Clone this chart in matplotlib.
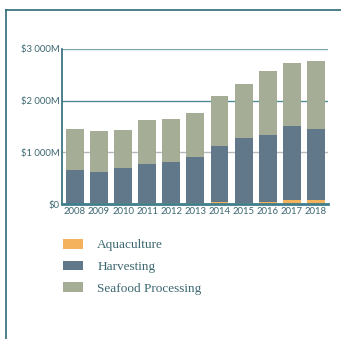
import numpy as np
import matplotlib.pyplot as plt
from matplotlib.lines import Line2D
from matplotlib.patches import Patch

years = ['2008', '2009', '2010', '2011', '2012', '2013', '2014', '2015', '2016', '2017', '2018']
# $ millions
aquaculture = [8, 30, 25, 20, 25, 30, 35, 20, 40, 85, 75]
harvesting = [652, 597, 680, 763, 797, 889, 1098, 1249, 1293, 1430, 1381]
seafood_processing = [796, 790, 732, 835, 828, 848, 951, 1055, 1250, 1210, 1315]

series_names = ['Aquaculture', 'Harvesting', 'Seafood Processing']
colors = ['#F4B25C', '#61788B', '#A6AD97']
teal = '#2E6B78'
text_col = '#3C6770'

fig = plt.figure(figsize=(3.41, 3.39), dpi=100, facecolor='white')
ax = fig.add_axes([0.182, 0.398, 0.78, 0.4575])

x = np.arange(len(years))
bottom = np.zeros(len(years))
for vals, col in zip([aquaculture, harvesting, seafood_processing], colors):
    ax.bar(x, vals, width=0.74, bottom=bottom, color=col, linewidth=0, zorder=2)
    bottom += np.array(vals)

ax.set_xlim(-0.53, len(years) - 0.5)
ax.set_ylim(0, 3000)

# horizontal guides behind the bars
ax.axhline(1000, color='#B3BABA', lw=1.0, zorder=1)
ax.axhline(2000, color='#4E8A95', lw=1.0, zorder=1)
ax.axhline(3000, color='#7DA6AD', lw=1.0, zorder=1)

ax.set_yticks([0, 1000, 2000, 3000])
ax.set_yticklabels(['$0', '$1 000M', '$2 000M', '$3 000M'])
ax.set_xticks(x)
ax.set_xticklabels(years)
ax.tick_params(axis='both', length=0, labelsize=6.8, colors=text_col, pad=2)
for lab in ax.get_xticklabels() + ax.get_yticklabels():
    lab.set_family(['Lato', 'DejaVu Sans'])

for s in ['top', 'right']:
    ax.spines[s].set_visible(False)
ax.spines['left'].set_color(teal)
ax.spines['left'].set_linewidth(1.2)
ax.spines['bottom'].set_color('#3F7F8C')
ax.spines['bottom'].set_linewidth(2.0)

handles = [Patch(facecolor=c, edgecolor='none') for c in colors]
ax.legend(handles, series_names, loc='upper left', bbox_to_anchor=(0.003, -0.225),
          frameon=False, handlelength=1.5, handleheight=0.75, handletextpad=1.1,
          labelspacing=0.7, prop={'family': 'Liberation Serif', 'size': 9.5},
          labelcolor=text_col, borderpad=0, borderaxespad=0)

# page frame
fig.add_artist(Line2D([0.0176, 1.0], [0.9705, 0.9705], transform=fig.transFigure,
                      color=teal, lw=1.2))
fig.add_artist(Line2D([0.0176, 0.0176], [0.0, 0.9705], transform=fig.transFigure,
                      color=teal, lw=1.2))

fig.savefig('out.png', dpi=100, facecolor='white')
